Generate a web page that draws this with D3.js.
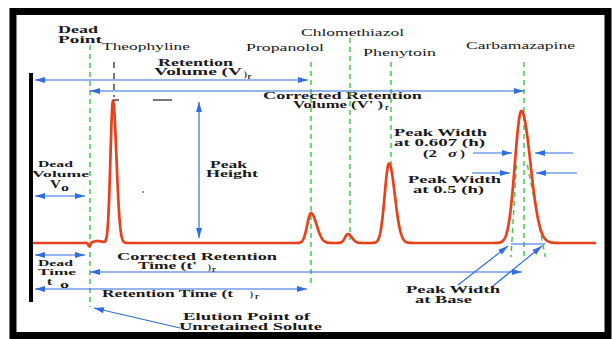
<!DOCTYPE html>
<html><head><meta charset="utf-8">
<script src="https://cdn.jsdelivr.net/npm/d3@7"></script>
<style>body{margin:0;background:#fff}svg{display:block}</style>
</head><body>
<script>
// ---- data (retention times in min, heights in relative detector units) ----
const compounds      = ["Theophyline","Propanolol","Chlomethiazol","Phenytoin","Carbamazapine"];
const retentionTimes = [2.84, 9.876, 11.19, 12.647, 17.35];
const peakHeights    = [100, 21, 6.3, 56, 93];
const sigmaLeft      = [0.089, 0.135, 0.107, 0.153, 0.23];
const sigmaRight     = [0.124, 0.2, 0.142, 0.206, 0.32];
const markerTimes    = [2.877, 9.876, 11.261, 12.718, 17.442];
const deadTime       = 2.025;
const disturbTimes   = [2.0, 2.3];
const disturbHeights = [-2.6, 1.4];
const disturbSigmas  = [0.035, 0.16];
const timeDomain     = [0, 20];
const signalDomain   = [0, 100];

const W = 612, H = 339;
const X = d3.scaleLinear().domain(timeDomain).range([33, 596]);
const Y = d3.scaleLinear().domain(signalDomain).range([243, 101]);

const svg = d3.select("body").append("svg").attr("width", W).attr("height", H);
svg.append("rect").attr("width", W).attr("height", H).attr("fill", "#fff");

const BLUE = "#2f6de0", GREEN = "#3cc43c", RED = "#e8401a", INK = "#1a1a1a";
const SERIF = '"Liberation Serif", "Times New Roman", serif';

// ---- helpers ----
function txt(s, x, y, len, o = {}) {
  const t = svg.append("text").attr("x", x).attr("y", y).text(s)
    .style("font-family", SERIF)
    .style("font-size", (o.size || 9.3) + "px")
    .style("font-weight", o.bold === false ? "normal" : "bold")
    .attr("fill", o.fill || INK);
  if (o.italic) t.style("font-style", "italic");
  if (len) t.attr("textLength", len).attr("lengthAdjust", "spacingAndGlyphs");
  return t;
}
function head(x, y, ang) {
  const L = 10, w = 3;
  const p = [[x, y],
    [x - L * Math.cos(ang) + w * Math.sin(ang), y - L * Math.sin(ang) - w * Math.cos(ang)],
    [x - L * Math.cos(ang) - w * Math.sin(ang), y - L * Math.sin(ang) + w * Math.cos(ang)]];
  svg.append("path").attr("d", "M" + p.map(d => d.join(",")).join("L") + "Z").attr("fill", BLUE);
}
function arrow(x1, y1, x2, y2, h1, h2) {
  svg.append("line").attr("x1", x1).attr("y1", y1).attr("x2", x2).attr("y2", y2)
    .attr("stroke", BLUE).attr("stroke-width", 1.2);
  const a = Math.atan2(y2 - y1, x2 - x1);
  if (h2) head(x2, y2, a);
  if (h1) head(x1, y1, a + Math.PI);
}
function vdash(x, y1, y2, color, dash, w) {
  svg.append("line").attr("x1", x).attr("x2", x).attr("y1", y1).attr("y2", y2)
    .attr("stroke", color).attr("stroke-width", w || 1.4).attr("stroke-dasharray", dash || "5,4");
}

// ---- frame ----
svg.append("rect").attr("x", 13).attr("y", 11.5).attr("width", 595).attr("height", 324)
  .attr("fill", "none").attr("stroke", "#000").attr("stroke-width", 7);

// ---- texts ----
txt("Dead", 58, 33, 40, {size: 10});
txt("Point", 58, 43, 44, {size: 10});
const nameY = [50, 51, 36, 56, 49], nameX = [102, 246, 301, 363, 466], nameL = [88, 78, 103, 73, 109];
compounds.forEach((c, i) => txt(c, nameX[i], nameY[i], nameL[i], {bold: false, size: 11}));

txt("Retention", 158, 66, 75);
txt("Volume (V", 154, 75, 88);
txt(")", 244, 77, 0, {size: 8.5});
txt("r", 247.5, 79, 0, {size: 8.5});

txt("Corrected Retention", 263, 98.5, 159);
txt("Volume (V' )", 293, 108, 90);
txt("r", 385, 110, 0, {size: 8.5});

txt("Peak", 210, 168, 37);
txt("Height", 206, 177, 52);

txt("Dead", 38, 167, 35, {size: 8.8});
txt("Volume", 32, 176.5, 57, {size: 8.8});
txt("V", 50, 188, 11, {size: 12.5});
txt("o", 61, 191, 8, {size: 9.5});

txt("Peak Width", 394, 136, 93);
txt("at 0.607 (h)", 394, 146, 91);
txt("(2", 423, 157, 14);
txt("σ", 448, 157, 9, {italic: true, size: 10.5});
txt(")", 460, 157, 5);

txt("Peak Width", 408, 183, 93);
txt("at 0.5 (h)", 413, 193, 71);

txt("Dead", 38, 265.5, 35, {size: 8.8});
txt("Time", 38, 275, 38, {size: 8.8});
txt("t", 47, 284.5, 5, {size: 10.5});
txt("o", 60, 287.5, 9, {size: 9.5});

txt("Corrected Retention", 117, 260, 160);
txt("Time (t'", 138, 269, 59);
txt(")", 208, 270, 0, {size: 8.5});
txt("r", 212, 272, 0, {size: 8.5});

txt("Retention Time (t", 102, 297, 131);
txt(")", 250, 297, 0, {size: 8.5});
txt("r", 255, 299, 0, {size: 8.5});

txt("Elution Point of", 183, 320, 127);
txt("Unretained Solute", 179, 330, 143);

txt("Peak Width", 406, 293, 94);
txt("at Base", 415, 303, 57);

// ---- dashed marker lines ----
vdash(X(deadTime), 45, 307, GREEN);
vdash(X(markerTimes[0]), 62, 97, INK, "6,5", 1.2);
const lineTop = [62, 38, 62, 62], lineBot = [287, 240, 165, 257];
markerTimes.slice(1).forEach((t, i) => vdash(X(t), lineTop[i], lineBot[i], GREEN));
// tangents on the last peak
const lastT = retentionTimes[4];
svg.append("line").attr("x1", X(lastT) - 5).attr("y1", 165).attr("x2", X(lastT - 0.37)).attr("y2", 257)
  .attr("stroke", GREEN).attr("stroke-width", 1.4).attr("stroke-dasharray", "5,4");
svg.append("line").attr("x1", X(lastT) + 6).attr("y1", 165).attr("x2", X(lastT + 0.85)).attr("y2", 257)
  .attr("stroke", GREEN).attr("stroke-width", 1.4).attr("stroke-dasharray", "5,4");

// ---- chromatogram trace ----
function signal(t) {
  let s = 0;
  retentionTimes.forEach((rt, i) => {
    const sg = t < rt ? sigmaLeft[i] : sigmaRight[i];
    s += peakHeights[i] * Math.exp(-0.5 * ((t - rt) / sg) ** 2);
  });
  disturbTimes.forEach((dt, i) => {
    s += disturbHeights[i] * Math.exp(-0.5 * ((t - dt) / disturbSigmas[i]) ** 2);
  });
  return s;
}
const ts = d3.range(timeDomain[0], timeDomain[1] + 0.0001, 0.01);
svg.append("path").datum(ts)
  .attr("d", d3.line().x(t => X(t)).y(t => Y(signal(t))))
  .attr("fill", "none").attr("stroke", RED).attr("stroke-width", 2.7).attr("stroke-linejoin", "round");

// ---- small black marks ----
svg.append("line").attr("x1", 113).attr("x2", 119).attr("y1", 100).attr("y2", 100).attr("stroke", INK).attr("stroke-width", 1.2);
svg.append("line").attr("x1", 153).attr("x2", 172).attr("y1", 100).attr("y2", 100).attr("stroke", INK).attr("stroke-width", 1.2);
svg.append("circle").attr("cx", 143).attr("cy", 192).attr("r", 0.8).attr("fill", INK);

// ---- blue arrows ----
arrow(X(0) + 2, 80, X(retentionTimes[1]) - 3, 80, true, true);
arrow(X(deadTime), 91, X(markerTimes[4]), 91, true, true);
arrow(199, 102, 199, 238, true, true);
arrow(X(0) + 2, 196, X(deadTime) - 5, 196, true, true);
arrow(X(0) + 2, 255, X(deadTime) - 5, 255, true, true);
arrow(X(deadTime), 272, X(markerTimes[4]) - 2, 272, true, true);
arrow(X(0) + 2, 289, X(retentionTimes[1]) - 4, 289, true, true);
arrow(180, 328, 94, 308, false, true);
arrow(473, 153, 512, 153, false, true);
arrow(573, 153, 535, 153, false, true);
arrow(472, 173, 510, 173, false, true);
arrow(577, 173, 536, 173, false, true);
svg.append("line").attr("x1", X(lastT - 0.37)).attr("x2", X(lastT + 0.85)).attr("y1", 244).attr("y2", 244)
  .attr("stroke", BLUE).attr("stroke-width", 1.2);
arrow(458, 285, 508, 246, false, true);
arrow(493, 286, 542, 246, false, true);

// ---- vertical axis ----
svg.append("line").attr("x1", 31).attr("x2", 31).attr("y1", 73).attr("y2", 302)
  .attr("stroke", "#000").attr("stroke-width", 4);
</script>
</body></html>
